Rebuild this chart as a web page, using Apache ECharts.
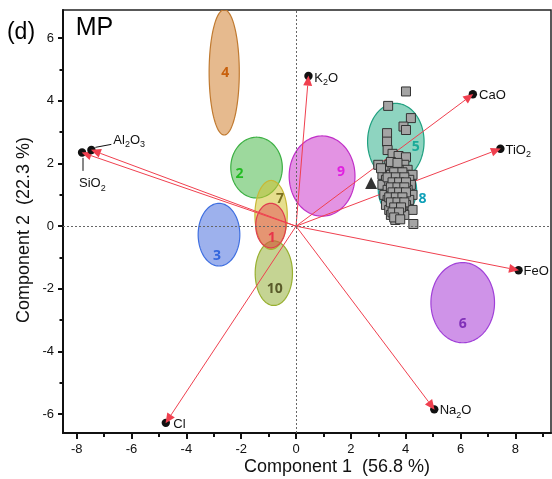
<!DOCTYPE html>
<html><head><meta charset="utf-8">
<script src="https://cdn.jsdelivr.net/npm/echarts@6/dist/echarts.min.js"></script>
<style>html,body{margin:0;padding:0;background:#fff}#c{width:552px;height:479px}</style>
</head><body><div id="c"></div>
<script>
// ---------- data ----------
const xTicks = [-8, -6, -4, -2, 0, 2, 4, 6, 8];
const xMinorTicks = [-7, -5, -3, -1, 1, 3, 5, 7, 9];
const yTicks = [-6, -4, -2, 0, 2, 4, 6];
const yMinorTicks = [-5, -3, -1, 1, 3, 5];

const vectorNames = ['SiO2', 'Al2O3', 'K2O', 'CaO', 'TiO2', 'FeO', 'Na2O', 'Cl'];
const vectorX = [-7.77, -7.43, 0.45, 6.42, 7.42, 8.08, 5.02, -4.73];
const vectorY = [2.34, 2.42, 4.76, 4.19, 2.46, -1.40, -5.82, -6.25];

const groupNames = ['4', '2', '7', '10', '1', '3', '9', '5', '8', '6'];
const groupCx = [-2.62, -1.44, -0.91, -0.81, -0.92, -2.81, 0.95, 3.64, 3.70, 6.08];
const groupCy = [4.91, 1.87, 0.36, -1.50, 0.02, -0.27, 1.60, 2.70, 1.15, -2.44];
const groupRx = [0.55, 0.94, 0.59, 0.68, 0.55, 0.76, 1.20, 1.03, 0.70, 1.16];
const groupRy = [2.00, 0.97, 1.10, 1.03, 0.71, 1.00, 1.28, 1.22, 0.80, 1.28];

const sampleX = [4.01, 3.36, 4.19, 3.92, 4.01, 3.32, 3.32, 3.34, 3.52, 3.74, 4.01,
  3.00, 3.40, 3.64, 3.95,
  3.22, 3.52, 3.76, 4.07,
  3.15, 3.46, 3.70, 4.01, 4.25,
  3.28, 3.52, 3.83, 4.13,
  3.15, 3.40, 3.64, 3.88, 4.19,
  3.34, 3.58, 3.83, 4.07,
  3.22, 3.46, 3.70, 3.95, 4.25,
  3.34, 3.58, 3.83, 4.13,
  3.28, 3.52, 3.76, 4.01,
  3.40, 3.64, 3.88, 4.25,
  3.46, 3.70, 3.95,
  3.62, 4.28,
  3.58, 3.88, 3.34, 3.64, 3.95, 3.52, 3.76, 4.01, 3.46, 3.70, 3.95, 3.52, 3.76, 4.01,
  3.40, 3.64, 3.88, 3.46, 3.70, 3.95, 3.58, 3.83, 3.52, 3.76, 3.58, 3.80, 3.10, 3.46, 3.70];
const sampleY = [4.30, 3.84, 3.45, 3.18, 3.07, 2.97, 2.70, 2.43, 2.31, 2.24, 2.20,
  1.96, 1.96, 1.96, 1.96,
  1.80, 1.80, 1.80, 1.80,
  1.64, 1.64, 1.64, 1.64, 1.64,
  1.48, 1.48, 1.48, 1.48,
  1.32, 1.32, 1.32, 1.32, 1.32,
  1.16, 1.16, 1.16, 1.16,
  1.00, 1.00, 1.00, 1.00, 1.00,
  0.84, 0.84, 0.84, 0.84,
  0.68, 0.68, 0.68, 0.68,
  0.52, 0.52, 0.52, 0.52,
  0.36, 0.36, 0.36,
  0.20, 0.07,
  1.72, 1.72, 1.56, 1.56, 1.56, 1.40, 1.40, 1.40, 1.24, 1.24, 1.24, 1.08, 1.08, 1.08,
  0.92, 0.92, 0.92, 0.76, 0.76, 0.76, 0.60, 0.60, 0.44, 0.44, 0.28, 0.22, 1.85, 2.05, 2.02];
const triangleX = [2.74];
const triangleY = [1.38];

// ---------- styles ----------
const FONT = '"Liberation Sans", Arial, Helvetica, sans-serif';
const RED = '#f0404f';
const groupStyle = {
  '1':  {fill: 'rgba(228,60,80,0.45)',  stroke: '#e03c50', text: '#e8344a', dx: 1,  dy: 12},
  '2':  {fill: 'rgba(60,180,60,0.5)',   stroke: '#3cb043', text: '#22bb22', dx: -17, dy: 6},
  '3':  {fill: 'rgba(60,100,220,0.5)',  stroke: '#3f6fe0', text: '#3366dd', dx: -2, dy: 21},
  '4':  {fill: 'rgba(210,130,50,0.55)', stroke: '#c07a30', text: '#c8600c', dx: 1,  dy: 1},
  '5':  {fill: 'rgba(30,170,130,0.5)',  stroke: '#20a080', text: '#1aaa98', dx: 20, dy: 5},
  '6':  {fill: 'rgba(160,40,210,0.5)',  stroke: '#a040d8', text: '#8030b8', dx: 0,  dy: 21},
  '7':  {fill: 'rgba(210,195,50,0.55)', stroke: '#c8b836', text: '#7a7020', dx: 9,  dy: -16},
  '8':  {fill: 'rgba(40,180,170,0.5)',  stroke: '#20a8a0', text: '#10a0b8', dx: 25, dy: 9},
  '9':  {fill: 'rgba(200,40,200,0.5)',  stroke: '#c030c8', text: '#e020e0', dx: 19, dy: -4},
  '10': {fill: 'rgba(140,170,40,0.5)',  stroke: '#98b030', text: '#5a5a2a', dx: 1,  dy: 16}
};
const vectorLabel = {
  SiO2:  {text: 'SiO{s|2}', dx: -4, dy: 31, lead: [[0, 5], [0, 18]]},
  Al2O3: {text: 'Al{s|2}O{s|3}', dx: 21, dy: -10, lead: [[3, -3], [19, -6]]},
  K2O:   {text: 'K{s|2}O', dx: 6, dy: 1},
  CaO:   {text: 'CaO', dx: 7, dy: 1},
  TiO2:  {text: 'TiO{s|2}', dx: 6, dy: 1},
  FeO:   {text: 'FeO', dx: 6, dy: 1},
  Na2O:  {text: 'Na{s|2}O', dx: 6, dy: 2},
  Cl:    {text: 'Cl', dx: 7, dy: 2}
};

const ellipseData = groupNames.map((n, i) => [groupCx[i], groupCy[i], groupRx[i], groupRy[i]]);
const vectorData = vectorNames.map((n, i) => [vectorX[i], vectorY[i]]);
const sampleData = sampleX.map((x, i) => [x, sampleY[i]]);
const triData = triangleX.map((x, i) => [x, triangleY[i]]);

function ellipseRender(params, api) {
  const c = api.coord([api.value(0), api.value(1)]);
  const s = api.size([api.value(2), api.value(3)]);
  const pts = [];
  for (let i = 0; i < 120; i++) {
    const t = i / 120 * Math.PI * 2;
    pts.push([c[0] + s[0] * Math.cos(t), c[1] + s[1] * Math.sin(t)]);
  }
  const st = groupStyle[groupNames[params.dataIndex]];
  return {type: 'polygon', shape: {points: pts}, style: {fill: st.fill, stroke: st.stroke, lineWidth: 1.2}};
}
function groupLabelRender(params, api) {
  const c = api.coord([api.value(0), api.value(1)]);
  const name = groupNames[params.dataIndex];
  const st = groupStyle[name];
  return {type: 'text', x: c[0] + st.dx, y: c[1] + st.dy,
    style: {text: name, fill: st.text, font: 'bold 14px "Open Sans", sans-serif', align: 'center', verticalAlign: 'middle'}};
}
function vectorLineRender(params, api) {
  const o = api.coord([0, 0]);
  const p = api.coord([api.value(0), api.value(1)]);
  const dx = p[0] - o[0], dy = p[1] - o[1], L = Math.hypot(dx, dy);
  const ux = dx / L, uy = dy / L;
  const tip = [p[0] + ux * 1.5, p[1] + uy * 1.5];
  const base = [tip[0] - ux * 10, tip[1] - uy * 10];
  return {type: 'line', shape: {x1: o[0], y1: o[1], x2: base[0], y2: base[1]}, style: {stroke: RED, lineWidth: 1}};
}
function vectorHeadRender(params, api) {
  const o = api.coord([0, 0]);
  const p = api.coord([api.value(0), api.value(1)]);
  const dx = p[0] - o[0], dy = p[1] - o[1], L = Math.hypot(dx, dy);
  const ux = dx / L, uy = dy / L;
  const tip = [p[0] + ux * 1.5, p[1] + uy * 1.5];
  const base = [tip[0] - ux * 10, tip[1] - uy * 10];
  const nx = -uy, ny = ux, w = 4.5;
  const lab = vectorLabel[vectorNames[params.dataIndex]];
  const children = [
    {type: 'circle', shape: {cx: p[0] + ux * 1, cy: p[1] + uy * 1, r: 4.2}, style: {fill: '#111'}},
    {type: 'polygon', shape: {points: [tip, [base[0] + nx * w, base[1] + ny * w], [base[0] - nx * w, base[1] - ny * w]]}, style: {fill: RED}},
    {type: 'text', x: p[0] + lab.dx, y: p[1] + lab.dy,
      style: {text: lab.text, font: '13px ' + FONT, fill: '#111', align: 'left', verticalAlign: 'middle', lineHeight: 18,
        rich: {s: {fontSize: 9, fontFamily: 'Liberation Sans', lineHeight: 10, verticalAlign: 'bottom', fill: '#111'}}}}
  ];
  if (lab.lead) {
    children.push({type: 'line', shape: {x1: p[0] + lab.lead[0][0], y1: p[1] + lab.lead[0][1], x2: p[0] + lab.lead[1][0], y2: p[1] + lab.lead[1][1]},
      style: {stroke: '#111', lineWidth: 1}});
  }
  return {type: 'group', children: children};
}

const axisCommonX = {type: 'value', min: -8.5, max: 9.3, splitLine: {show: false}};
const axisCommonY = {type: 'value', min: -6.6, max: 6.9, splitLine: {show: false}};

const chart = echarts.init(document.getElementById('c'), null, {renderer: 'canvas', width: 552, height: 479});
chart.setOption({
  animation: false,
  backgroundColor: '#fff',
  grid: {left: 63, right: 1, top: 10, bottom: 46, show: true, borderColor: '#222', borderWidth: 1.5, backgroundColor: 'transparent'},
  xAxis: [
    Object.assign({}, axisCommonX, {
      position: 'bottom',
      axisLine: {show: true, onZero: false, lineStyle: {color: '#111', width: 2}},
      axisTick: {show: true, customValues: xTicks, length: 6, lineStyle: {color: '#111', width: 2}},
      axisLabel: {customValues: xTicks, color: '#111', fontSize: 13, fontFamily: FONT, margin: 10}
    }),
    Object.assign({}, axisCommonX, {
      position: 'bottom',
      axisLine: {show: false, onZero: false},
      axisTick: {show: true, customValues: xMinorTicks, length: 4, lineStyle: {color: '#111', width: 2}},
      axisLabel: {show: false}
    })
  ],
  yAxis: [
    Object.assign({}, axisCommonY, {
      position: 'left',
      axisLine: {show: true, onZero: false, lineStyle: {color: '#111', width: 2}},
      axisTick: {show: true, customValues: yTicks, length: 5, lineStyle: {color: '#111', width: 2}},
      axisLabel: {customValues: yTicks, color: '#111', fontSize: 13, fontFamily: FONT, margin: 9}
    }),
    Object.assign({}, axisCommonY, {
      position: 'left',
      axisLine: {show: false, onZero: false},
      axisTick: {show: true, customValues: yMinorTicks, length: 3.5, lineStyle: {color: '#111', width: 2}},
      axisLabel: {show: false}
    })
  ],
  graphic: [
    {type: 'text', x: 21, y: 33, style: {text: '(d)', font: '23px ' + FONT, fill: '#000', align: 'center', verticalAlign: 'middle'}},
    {type: 'text', x: 94.5, y: 28, style: {text: 'MP', font: '25px ' + FONT, fill: '#000', align: 'center', verticalAlign: 'middle'}},
    {type: 'text', x: 337, y: 467, style: {text: 'Component 1  (56.8 %)', font: '18px ' + FONT, fill: '#111', align: 'center', verticalAlign: 'middle'}},
    {type: 'text', x: 24, y: 230, rotation: Math.PI / 2, style: {text: 'Component 2  (22.3 %)', font: '18px ' + FONT, fill: '#111', align: 'center', verticalAlign: 'middle'}}
  ],
  series: [
    {type: 'line', data: [], z: 1, markLine: {silent: true, symbol: 'none', animation: false,
      lineStyle: {type: [2, 2], color: '#666', width: 1}, label: {show: false},
      data: [{xAxis: 0}, {yAxis: 0}]}},
    {type: 'custom', name: 'ellipses', z: 2, clip: true, renderItem: ellipseRender, data: ellipseData},
    {type: 'custom', name: 'vectorLines', z: 3, clip: true, renderItem: vectorLineRender, data: vectorData},
    {type: 'scatter', name: 'samples', z: 4, symbol: 'rect', symbolSize: 9,
      itemStyle: {color: '#a4a4a4', borderColor: '#333', borderWidth: 1, opacity: 1}, data: sampleData},
    {type: 'scatter', name: 'triangle', z: 4, symbol: 'triangle', symbolSize: 12, itemStyle: {color: '#000'}, data: triData},
    {type: 'custom', name: 'groupLabels', z: 5, renderItem: groupLabelRender, data: ellipseData},
    {type: 'custom', name: 'vectorHeads', z: 6, renderItem: vectorHeadRender, data: vectorData}
  ]
});
</script></body></html>
